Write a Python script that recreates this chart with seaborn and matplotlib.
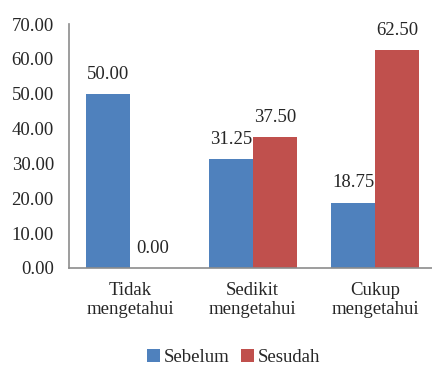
import matplotlib
matplotlib.use("Agg")
import matplotlib.pyplot as plt
import seaborn as sns
import pandas as pd

categories = ["Tidak\nmengetahui", "Sedikit\nmengetahui", "Cukup\nmengetahui"]
sebelum = [50.00, 31.25, 18.75]
sesudah = [0.00, 37.50, 62.50]
series_names = ["Sebelum", "Sesudah"]
colors = ["#4F81BD", "#C0504D"]
y_ticks = [0, 10, 20, 30, 40, 50, 60, 70]

df = pd.DataFrame({
    "kategori": categories * 2,
    "nilai": sebelum + sesudah,
    "waktu": [series_names[0]] * 3 + [series_names[1]] * 3,
})

sns.set_style("white")
plt.rcParams["font.family"] = "serif"
plt.rcParams["font.serif"] = ["Liberation Serif", "DejaVu Serif"]

FS = 13.5

fig = plt.figure(figsize=(4.32, 3.65), dpi=100)
ax = fig.add_axes([0.16, 0.266, 0.85, 0.668])

sns.barplot(data=df, x="kategori", y="nilai", hue="waktu", palette=colors,
            width=0.72, saturation=1, ax=ax, edgecolor="none")

for cont in ax.containers:
    ax.bar_label(cont, fmt="%.2f", padding=8, fontsize=FS)

ax.set_ylim(0, 70)
ax.set_xlim(-0.5, 2.5)
ax.set_yticks(y_ticks)
ax.set_yticklabels([f"{v:.2f}" for v in y_ticks], fontsize=FS)
ax.set_xticks(range(len(categories)))
ax.set_xticklabels(categories, fontsize=FS, linespacing=1.2)
ax.tick_params(axis="x", length=0, pad=10)
ax.tick_params(axis="y", length=0, pad=11)
ax.set_xlabel("")
ax.set_ylabel("")

for s in ["top", "right"]:
    ax.spines[s].set_visible(False)
for s in ["left", "bottom"]:
    ax.spines[s].set_color("#8C8C8C")
    ax.spines[s].set_linewidth(1.2)

handles, labels = ax.get_legend_handles_labels()
ax.legend_.remove()
fig.legend(handles, labels, loc="lower center", bbox_to_anchor=(0.54, -0.05),
           ncol=2, frameon=False, fontsize=FS, handlelength=0.7,
           handleheight=0.7, handletextpad=0.2, columnspacing=0.6)

fig.savefig("out.png", dpi=100)
